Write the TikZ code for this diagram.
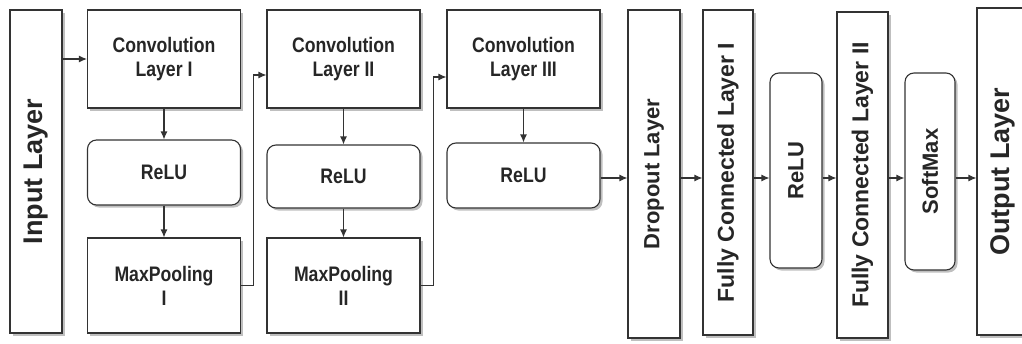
\documentclass[tikz,border=0pt]{standalone}
\usepackage{fontspec}
\setmainfont{Liberation Sans}
\newfontfamily\narrowsf[FakeStretch=0.84]{Liberation Sans}
\usetikzlibrary{arrows.meta,shadows}
\newcommand{\vtext}[1]{\rotatebox{90}{#1}}
\begin{document}
\begin{tikzpicture}[x=1pt,y=-1pt,
  box/.style={draw=black!80, line width=1.1pt, fill=white,
    drop shadow={shadow xshift=2.5pt, shadow yshift=-2.5pt, fill=black!50},
    inner sep=0pt, align=center, text=black!85},
  layer/.style={box, minimum width=153pt, font=\narrowsf\bfseries\fontsize{21}{24}\selectfont},
  act/.style={layer, rounded corners=9pt},
  vlayer/.style={box, font=\bfseries\fontsize{22}{26}\selectfont},
  vact/.style={vlayer, rounded corners=9pt},
  endlayer/.style={box, font=\bfseries\fontsize{27}{30}\selectfont},
  flow/.style={draw=black!80, line width=1.1pt, -{Latex[length=8pt,width=7pt]}}]
\useasboundingbox (0,0) rectangle (1022,343);

\node [endlayer, minimum width=52pt, minimum height=323pt] (in) at (36,171.5) {\vtext{Input Layer}};

\node [layer, minimum height=98pt] (conv1) at (164,59) {Convolution\\Layer I};
\node [act, minimum height=65pt] (relu1) at (164,172.5) {ReLU};
\node [layer, minimum height=95pt] (pool1) at (164,285.5) {MaxPooling\\I};

\node [layer, minimum height=98pt] (conv2) at (343.5,59) {Convolution\\Layer II};
\node [act, minimum height=63pt] (relu2) at (343.5,176.5) {ReLU};
\node [layer, minimum height=95pt] (pool2) at (343.5,285.5) {MaxPooling\\II};

\node [layer, minimum height=98pt] (conv3) at (523.5,59) {Convolution\\Layer III};
\node [act, minimum height=65pt] (relu3) at (523.5,175.5) {ReLU};

\node [vlayer, minimum width=52pt, minimum height=328pt] (drop) at (654,174) {\vtext{Dropout Layer}};
\node [vlayer, minimum width=50pt, minimum height=325pt, font=\bfseries\fontsize{23}{26}\selectfont] (fc1) at (728,172.5) {\vtext{Fully Connected Layer I}};
\node [vact, minimum width=52pt, minimum height=195pt] (relu4) at (796,170.5) {\vtext{ReLU}};
\node [vlayer, minimum width=51pt, minimum height=326pt, font=\bfseries\fontsize{23}{26}\selectfont] (fc2) at (862.5,175) {\vtext{Fully Connected Layer II}};
\node [vact, minimum width=50pt, minimum height=197pt] (soft) at (930,171.5) {\vtext{SoftMax}};
\node [endlayer, minimum width=52pt, minimum height=327pt] (out) at (1003,171.5) {\vtext{Output Layer}};

\coordinate (axis) at (0,178);

\draw [flow] (in.east |- conv1.west) -- (conv1.west);
\draw [flow] (conv1) -- (relu1);
\draw [flow] (relu1) -- (pool1);
\draw [flow] (pool1.east) -- ++(12,0) |- ([yshift=-16pt]conv2.west);
\draw [flow] (conv2) -- (relu2);
\draw [flow] (relu2) -- (pool2);
\draw [flow] (pool2.east) -- ++(13,0) |- ([yshift=-18pt]conv3.west);
\draw [flow] (conv3) -- (relu3);
\draw [flow] (relu3.east |- axis) -- (drop.west |- axis);
\draw [flow] (drop.east |- axis) -- (fc1.west |- axis);
\draw [flow] (fc1.east |- axis) -- (relu4.west |- axis);
\draw [flow] (relu4.east |- axis) -- (fc2.west |- axis);
\draw [flow] (fc2.east |- axis) -- (soft.west |- axis);
\draw [flow] (soft.east |- axis) -- (out.west |- axis);
\end{tikzpicture}
\end{document}
